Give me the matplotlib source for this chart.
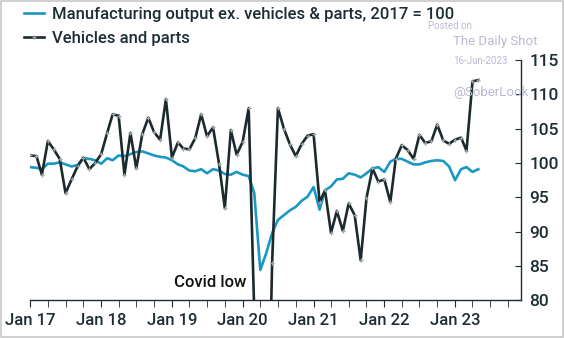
import matplotlib
matplotlib.use("Agg")
import matplotlib.pyplot as plt
import matplotlib.dates as mdates
import pandas as pd
import numpy as np

plt.rcParams['font.family'] = ['Roboto', 'DejaVu Sans']
plt.rcParams['font.weight'] = 'medium'

start = "2017-01-01"
manuf_ex_vehicles = [
    99.4, 99.3, 99.1, 99.9, 99.9, 100.1, 99.8, 99.5, 99.7, 100.7, 100.6, 100.4,
    99.9, 100.7, 100.4, 101.1, 101.0, 101.3, 101.6, 101.7, 101.4, 101.1, 100.9, 100.8,
    100.4, 99.8, 99.5, 98.9, 98.8, 99.1, 98.5, 99.1, 98.9, 98.4, 98.3, 98.7,
    98.3, 98.1, 95.6, 84.4, 86.8, 89.8, 91.7, 92.4, 93.1, 93.6, 94.5, 95.1,
    96.5, 93.2, 96.0, 96.6, 97.6, 97.7, 98.5, 98.3, 97.9, 98.5, 99.2, 99.4,
    98.7, 100.2, 100.6, 100.6, 100.2, 99.8, 99.8, 100.1, 100.3, 100.4, 100.3, 99.5,
    97.5, 99.1, 99.4, 98.7, 99.1,
]
vehicles_parts = [
    101.1, 101.0, 98.3, 103.2, 102.0, 100.6, 95.6, 97.6, 99.5, 100.8, 99.1, 100.0,
    101.3, 104.4, 107.1, 106.9, 98.3, 104.4, 99.2, 104.2, 106.6, 104.5, 103.4, 109.3,
    100.8, 103.0, 102.1, 102.0, 103.6, 107.1, 103.9, 105.2, 99.9, 93.4, 104.8, 101.2,
    103.1, 108.0, 78.0, 20.0, 45.0, 85.4, 108.0, 105.0, 102.7, 101.0, 102.8, 104.0,
    104.2, 94.3, 96.0, 89.8, 93.0, 90.1, 94.1, 92.4, 85.8, 94.9, 99.2, 97.3,
    97.6, 94.3, 100.6, 102.6, 101.9, 100.6, 104.1, 102.9, 103.2, 105.6, 103.3, 102.8,
    103.4, 103.7, 101.8, 111.9, 112.1,
]
dates = pd.date_range(start, periods=len(vehicles_parts), freq="MS")
year_labels = ["Jan 17", "Jan 18", "Jan 19", "Jan 20", "Jan 21", "Jan 22", "Jan 23"]
y_ticks = [80, 85, 90, 95, 100, 105, 110, 115]

text_col = "#1e2d33"
blue = "#1a98c4"
dark = "#1c2a2d"

fig = plt.figure(figsize=(5.64, 3.38), dpi=100)
ax = fig.add_axes([0.054, 0.112, 0.870, 0.710])

l1, = ax.plot(dates, manuf_ex_vehicles, color=blue, lw=1.9, zorder=2,
              label="Manufacturing output ex. vehicles & parts, 2017 = 100")
l2, = ax.plot(dates, vehicles_parts, color=dark, lw=1.9, marker='+', ms=3.5,
              mew=0.9, mec="#9aa3a5", zorder=3, label="Vehicles and parts")

ax.set_ylim(80, 115)
ax.set_xlim(pd.Timestamp("2017-01-01"), pd.Timestamp("2023-12-08"))

for s in ["top", "left"]:
    ax.spines[s].set_visible(False)
for s in ["bottom", "right"]:
    ax.spines[s].set_color(text_col)
    ax.spines[s].set_linewidth(1.0)

ax.yaxis.tick_right()
ax.set_yticks(y_ticks)
ax.set_yticklabels([str(v) for v in y_ticks])
ax.tick_params(axis='y', direction='in', length=4, color=text_col,
               labelsize=12.5, labelcolor=text_col, pad=6)

ax.xaxis.set_major_locator(mdates.YearLocator())
ax.xaxis.set_minor_locator(mdates.MonthLocator(bymonth=[4, 7, 10]))
ax.set_xticks(pd.date_range("2017-01-01", periods=len(year_labels), freq="YS"))
ax.set_xticklabels(year_labels)
ax.tick_params(axis='x', which='both', direction='out', length=5, color=text_col,
               labelsize=12, labelcolor=text_col, pad=4)

ax.text(pd.Timestamp("2019-07-15"), 81.5, "Covid low", fontsize=12, color="#111111",
        ha='center', va='bottom')

leg = fig.legend(handles=[l1, l2], loc='upper left', bbox_to_anchor=(0.025, 1.01),
                 frameon=False, fontsize=12, labelcolor=text_col, handlelength=1.2,
                 handletextpad=0.5, labelspacing=0.55, borderaxespad=0.2)

wm = "#b9b9d6"
fig.text(428 / 564, 1 - 26 / 338, "Posted on", fontsize=7, color=wm, va='center',
         fontweight='normal')
fig.text(453 / 564, 1 - 42 / 338, "The Daily Shot", fontsize=9.5, color=wm, va='center',
         fontweight='normal')
fig.text(453 / 564, 1 - 61 / 338, "16-Jun-2023", fontsize=7, color=wm, va='center',
         fontweight='normal')
fig.text(453 / 564, 1 - 92 / 338, "@SoberLook", fontsize=9.5, color=wm, va='center',
         zorder=5, fontweight='normal')

fig.patches.append(plt.Rectangle((0.001, 0.002), 0.997, 0.995, transform=fig.transFigure,
                                 fill=False, edgecolor="#c8c8c8", lw=1.2))

fig.savefig("out.png", dpi=100)
